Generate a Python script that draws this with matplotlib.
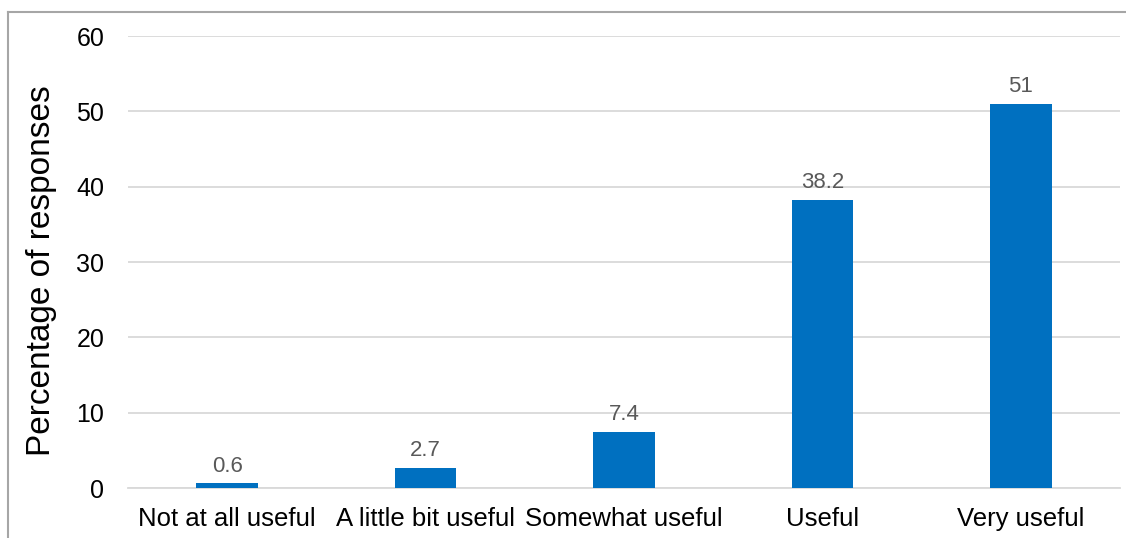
import matplotlib
matplotlib.use("Agg")
import matplotlib.pyplot as plt
from matplotlib.lines import Line2D

categories = ["Not at all useful", "A little bit useful", "Somewhat useful", "Useful", "Very useful"]
values = [0.6, 2.7, 7.4, 38.2, 51]
value_labels = ["0.6", "2.7", "7.4", "38.2", "51"]
yticks = [0, 10, 20, 30, 40, 50, 60]

plt.rcParams["font.family"] = ["Liberation Sans", "DejaVu Sans"]

fig = plt.figure(figsize=(11.26, 5.38), dpi=100)
ax = fig.add_axes([128 / 1126, 50 / 538, 992 / 1126, 452 / 538])

x = list(range(len(categories)))
bars = ax.bar(x, values, width=0.31, color="#0070C0", zorder=3)

for b, lab in zip(bars, value_labels):
    ax.annotate(lab, (b.get_x() + b.get_width() / 2, b.get_height()),
                xytext=(0, 5), textcoords="offset points",
                ha="center", va="bottom", fontsize=16, color="#595959")

ax.set_xlim(-0.5, len(categories) - 0.5)
ax.set_ylim(0, 60)
ax.set_yticks(yticks)
ax.set_xticks(x)
ax.set_xticklabels(categories)
ax.tick_params(axis="y", length=0, pad=17, labelsize=18, labelcolor="#000000")
ax.tick_params(axis="x", length=0, pad=14, labelsize=18.5, labelcolor="#000000")
ax.grid(True, axis="y", color="#D9D9D9", linewidth=1.3, zorder=0)
for s in ("top", "right", "left"):
    ax.spines[s].set_visible(False)
ax.spines["bottom"].set_color("#D9D9D9")
ax.spines["bottom"].set_linewidth(1.3)
ax.set_ylabel("Percentage of responses", fontsize=24, labelpad=14)
ax.yaxis.label.set_y(0.482)

# outer chart border (only top and left visible in the crop)
fig.add_artist(Line2D([8 / 1126, 1.0], [1 - 12 / 538, 1 - 12 / 538],
                      transform=fig.transFigure, color="#A6A6A6", linewidth=1.5))
fig.add_artist(Line2D([8 / 1126, 8 / 1126], [0.0, 1 - 12 / 538],
                      transform=fig.transFigure, color="#A6A6A6", linewidth=1.5))

fig.savefig("out.png", dpi=100)
